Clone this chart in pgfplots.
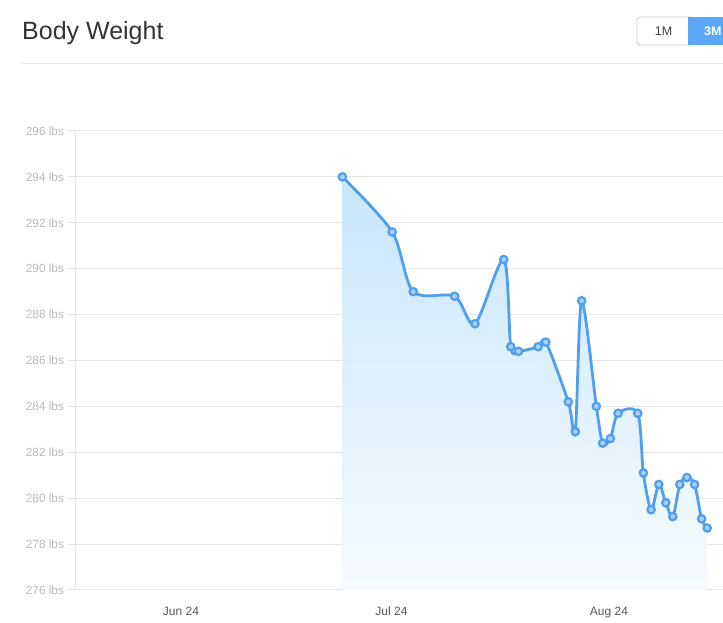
\documentclass[border=0pt]{standalone}
\usepackage{fontspec}
\setmainfont{Liberation Sans}
\usepackage{pgfplots}
\pgfplotsset{compat=1.18}
\definecolor{lineblue}{RGB}{80,158,240}
\definecolor{markfill}{RGB}{170,210,250}
\definecolor{filltop}{RGB}{200,230,252}
\definecolor{fillbot}{RGB}{246,251,255}
\definecolor{gridc}{RGB}{230,230,230}
\definecolor{ticklab}{RGB}{185,185,185}
\definecolor{xlab}{RGB}{85,85,85}
\definecolor{btnblue}{RGB}{90,167,246}
\begin{document}
\begin{tikzpicture}
\path[use as bounding box] (0pt,0pt) rectangle (723pt,623pt);
% header
\node[anchor=base west, inner sep=0, text=black!80] at (22pt,583.5pt) {\fontsize{25}{29}\selectfont Body Weight};
\draw[draw=gridc, line width=1pt] (22pt,559pt) -- (723pt,559pt);
\draw[draw=black!20, fill=white, rounded corners=3pt, line width=0.8pt] (637pt,578pt) rectangle (695pt,606pt);
\fill[btnblue] (688.3pt,578.4pt) rectangle (730pt,605.6pt);
\node[text=black!75] at (663.5pt,592pt) {\fontsize{12.5}{14}\selectfont 1M};
\node[text=white, anchor=west, inner sep=0] at (704pt,592pt) {\fontsize{12.5}{14}\selectfont\bfseries 3M};
\begin{axis}[
  at={(75pt,33pt)}, anchor=south west,
  scale only axis, width=648pt, height=459pt,
  xmin=-15.11, xmax=77.25, ymin=276, ymax=296,
  axis x line*=bottom, axis y line*=left,
  axis line style={draw=gridc, line width=1pt, -},
  ytick={276,278,...,296},
  xtick={0,30,61}, xticklabels={Jun 24, Jul 24, Aug 24},
  ymajorgrids, grid style={draw=gridc, line width=1pt},
  xtick style={draw=none},
  ytick style={draw=gridc, line width=1pt},
  tick align=outside, major tick length=7pt,
  /pgf/number format/assume math mode=true,
  yticklabel={\pgfmathprintnumber{\tick} lbs},
  yticklabel style={text=ticklab, font=\fontsize{11.8}{13}\selectfont, xshift=-0.5pt},
  xticklabel style={text=xlab, font=\fontsize{12}{14}\selectfont, text height=9pt, text depth=2.5pt, yshift=-6pt},
  clip=false,
]
\addplot[draw=none, smooth, tension=0.5, top color=filltop, bottom color=fillbot, forget plot] coordinates {
(23.0,294.0) (30.1,291.6) (33.1,289.0) (39.0,288.8) (41.9,287.6) (46.0,290.4)
(47.0,286.6) (48.1,286.4) (50.9,286.6) (52.0,286.8) (55.2,284.2) (56.2,282.9)
(57.1,288.6) (59.2,284.0) (60.1,282.4) (61.2,282.6) (62.3,283.7) (65.1,283.7)
(65.9,281.1) (67.0,279.5) (68.1,280.6) (69.1,279.8) (70.1,279.2) (71.1,280.6)
(72.1,280.9) (73.2,280.6) (74.2,279.1) (75.0,278.7)
} \closedcycle;
\addplot[lineblue, line width=2.8pt, smooth, tension=0.5, mark=*, mark size=3.7pt,
  mark options={fill=markfill, draw=lineblue, line width=2.2pt, solid}] coordinates {
(23.0,294.0) (30.1,291.6) (33.1,289.0) (39.0,288.8) (41.9,287.6) (46.0,290.4)
(47.0,286.6) (48.1,286.4) (50.9,286.6) (52.0,286.8) (55.2,284.2) (56.2,282.9)
(57.1,288.6) (59.2,284.0) (60.1,282.4) (61.2,282.6) (62.3,283.7) (65.1,283.7)
(65.9,281.1) (67.0,279.5) (68.1,280.6) (69.1,279.8) (70.1,279.2) (71.1,280.6)
(72.1,280.9) (73.2,280.6) (74.2,279.1) (75.0,278.7)
};
\end{axis}
\end{tikzpicture}
\end{document}
